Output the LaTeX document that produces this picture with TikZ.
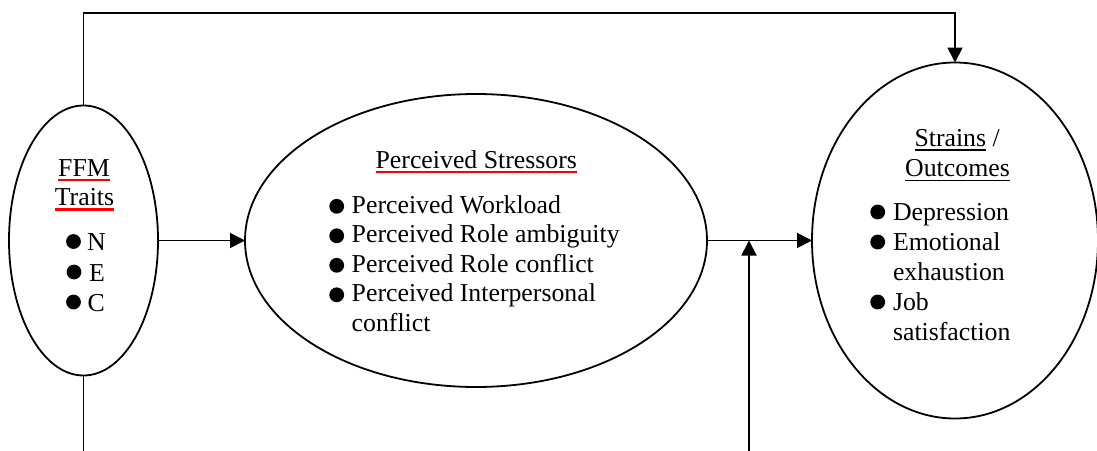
\documentclass[tikz,border=0pt]{standalone}
\usepackage{fontspec}
\setmainfont{Liberation Serif}
\usetikzlibrary{shapes.geometric,arrows.meta,calc}

\begin{document}
\begin{tikzpicture}[x=1pt,y=-1pt,
  line width=1.8pt,
  oval/.style={draw,ellipse,inner sep=0pt,outer sep=0pt},
  txt/.style={inner sep=0pt,outer sep=0pt,font=\fontsize{25.8}{29.5}\selectfont},
  arr/.style={-{Triangle[length=15pt,width=15pt]}},
  redline/.style={draw=red,line width=2.2pt},
  blackline/.style={draw=black,line width=1.4pt}]

\useasboundingbox (0,0) rectangle (1097,450);

% the three constructs
\node[oval,minimum width=149pt,minimum height=270pt] (ffm) at (83.5,240.5) {};
\node[oval,minimum width=462pt,minimum height=293pt] (ps)  at (476,240.5) {};
\node[oval,minimum width=286pt,minimum height=356pt] (so)  at (955,240.5) {};

% FFM traits
\node[txt,anchor=base] (ffmA) at (84,176.5) {FFM};
\node[txt,anchor=base] (ffmB) at (84.5,205.5) {Traits};
\draw[redline] ($(ffmA.base west)+(0,3.5)$) -- ($(ffmA.base east)+(0,3.5)$);
\draw[redline] ($(ffmB.base west)+(0,4)$) -- ($(ffmB.base east)+(0,4)$);
\fill (73.5,241.5) circle (7.4pt);
\fill (74,272) circle (7.4pt);
\fill (73.5,302) circle (7.4pt);
\node[txt,anchor=base west] (tN) at (87,250.5) {N};
\node[txt,anchor=base west] (tE) at (89,281) {E};
\node[txt,anchor=base west] (tC) at (87.5,311.5) {C};

% perceived stressors
\node[txt,anchor=base] (psT) at (476.3,168.3) {Perceived Stressors};
\draw[redline] ($(psT.base west)+(0,3.5)$) -- ($(psT.base east)+(0,3.5)$);
\foreach \yb in {213.3,242.8,272.3,301.8}
  \fill (336.7,\yb-7) circle (7.4pt);
\node[txt,anchor=base west] (ps1) at (351.7,213.3) {Perceived Workload};
\node[txt,anchor=base west] (ps2) at (351.7,242.8) {Perceived Role ambiguity};
\node[txt,anchor=base west] (ps3) at (351.7,272.3) {Perceived Role conflict};
\node[txt,anchor=base west] (ps4) at (351.7,301.8) {Perceived Interpersonal};
\node[txt,anchor=base west] (ps5) at (351.7,331.3) {conflict};

% strains / outcomes
\node[txt,anchor=base west] (soA) at (914.5,146.7) {Strains};
\node[txt,anchor=base west] (soS) at (soA.base east) {\ /};
\node[txt,anchor=base] (soB) at (957.5,176.7) {Outcomes};
\draw[blackline] ($(soA.base west)+(0,3.2)$) -- ($(soA.base east)+(0,3.2)$);
\draw[blackline] ($(soB.base west)+(0,3.6)$) -- ($(soB.base east)+(0,3.6)$);
\fill (877.7,212) circle (7.4pt);
\fill (877.7,242) circle (7.4pt);
\fill (877.7,302) circle (7.4pt);
\node[txt,anchor=base west] (so1) at (893,220.7) {Depression};
\node[txt,anchor=base west] (so2) at (893,250.7) {Emotional};
\node[txt,anchor=base west] (so3) at (893,280.7) {exhaustion};
\node[txt,anchor=base west] (so4) at (893,310.7) {Job};
\node[txt,anchor=base west] (so5) at (893,340.7) {satisfaction};

% connectors
\coordinate (top) at (0,13);
\coordinate (bottom) at (0,451);
\coordinate (modsrc) at (749,451);

\draw[arr] (ffm.east) -- (ps.west);
\draw[arr] (ps.east) -- (so.west);
\draw[arr] (ffm.north) -- (ffm.north |- top) -- (so.north |- top) -- (so.north);
\draw (ffm.south) -- (ffm.south |- bottom);
\draw[arr] (modsrc) -- (modsrc |- ps.east);
\end{tikzpicture}
\end{document}
